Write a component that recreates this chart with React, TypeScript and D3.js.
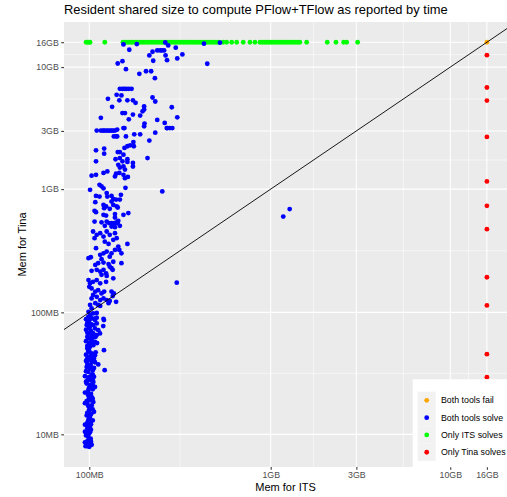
// Resident memory scatter: ITS vs Tina (log-log), drawn with D3

import { useRef, useEffect } from 'react';
import * as d3 from 'd3';

// Memory values are in MB (1GB = 1024MB). 16GB is the memory cap.
const MEM_LIMIT = 16384;

// [mem for ITS, mem for Tina]
const bothSolve: [number, number][] = [
  [155, 15720], [184, 15810], [265, 16300], [275, 15430], [303, 14770], [435, 15930], [534, 16240],
  [167, 14220], [225, 13690], [239, 14030], [248, 14030], [254, 14030], [261, 14030],
  [216, 12770], [266, 12770], [271, 11680], [309, 12060], [330, 13010], [227, 11550],
  [153, 11460], [144, 10970], [454, 10910], [160, 9850], [190, 9030], [207, 9470], [221, 9470], [232, 8310],
  [148, 6800], [153, 6800], [157, 6800], [161, 6800], [166, 6800], [172, 6800],
  [142, 6070], [151, 6000], [127, 5630], [147, 5470], [163, 5470], [175, 5470], [181, 5220], [225, 5770], [233, 5350],
  [134, 4840], [202, 4890], [202, 4600], [198, 4450], [288, 4800], [153, 4300], [158, 4300], [175, 4180], [192, 4100],
  [309, 3970], [116, 3930], [166, 3820], [239, 3780], [203, 3530], [202, 3350], [263, 3570], [281, 3240], [270, 3240], [155, 3240],
  [110, 3090], [116, 3090], [119, 3090], [121, 3090], [124, 3090], [127, 3090], [130, 3090], [133, 3090], [136, 3090], [139, 3090],
  [143, 3150], [157, 3240], [233, 2970], [272, 3240], [290, 3240], [137, 2770], [141, 2770], [143, 2770], [160, 2770], [178, 2880], [192, 2880], [216, 2560],
  [109, 2130], [121, 2200], [121, 2000], [144, 2060], [148, 2060], [155, 1960], [157, 2230], [163, 2300], [169, 2340], [176, 2490], [177, 2300],
  [109, 1730], [140, 1800], [148, 1840], [153, 1730], [163, 1800], [163, 1710], [175, 1680], [175, 1570], [211, 1840], [145, 1620], [148, 1540], [155, 1570], [158, 1480],
  [120, 1390], [126, 1430], [141, 1370], [147, 1390], [155, 1340], [103, 1320], [109, 1340], [158, 1260], [164, 1290], [139, 1300],
  [114, 1110], [117, 1080], [120, 1040], [159, 1050], [101, 1010], [255, 980],
  [125, 950], [126, 890], [109, 900], [114, 890], [133, 900], [136, 850], [133, 810], [141, 840], [136, 760], [142, 740], [150, 920], [148, 840],
  [108, 800], [107, 680], [120, 760], [124, 740], [121, 715], [130, 706], [144, 724], [109, 663], [120, 630], [124, 622], [139, 639], [139, 599], [155, 630], [165, 651],
  [107, 555], [117, 547], [129, 539], [133, 539], [138, 539], [144, 539],
  [125, 555], [136, 532], [142, 547], [145, 563], [122, 512], [133, 505], [139, 499], [148, 512],
  [105, 460], [110, 432], [107, 406], [115, 446], [120, 418], [125, 460], [130, 432], [139, 446], [142, 406], [136, 393], [122, 380], [128, 364], [163, 364],
  [109, 336], [145, 346], [147, 325], [120, 305], [125, 315], [133, 305], [139, 325], [130, 286], [151, 305],
  [99, 278], [102, 283], [115, 296], [117, 273], [151, 253], [108, 245], [112, 253], [120, 256], [128, 249], [136, 260], [130, 237],
  [103, 219], [110, 223], [115, 216], [120, 223], [124, 209], [135, 223], [133, 230], [117, 203], [125, 199], [136, 190],
  [99, 184], [101, 173], [105, 178], [110, 184], [115, 173], [100, 162], [103, 157], [124, 178], [307, 175],
  [108, 148], [112, 152], [117, 143], [121, 148], [105, 139], [103, 130], [110, 134], [115, 126], [120, 130],
  [133, 148], [137, 143], [135, 136], [141, 122], [125, 126], [128, 119], [130, 124],
  [101, 115], [108, 119], [112, 115], [103, 108], [115, 113], [99, 101], [101, 95], [105, 98], [110, 99],
  [102, 90.5], [107, 89], [120, 88.6],
  [98.7, 92], [103, 89], [107.6, 86.5], [110, 90.5], [120.7, 86.5], [119.6, 77.2],
  [96.7, 78.6], [100.9, 76.1], [105.3, 78.6], [110, 81.2], [107.6, 73.9], [112.2, 71.5],
  [100.9, 67.2], [105.3, 67.2], [110, 65.1], [114.7, 67.2], [98.7, 61.1], [103.1, 59.2], [107.6, 57.3],
  [100.9, 52.2], [105.3, 53.8], [97.5, 50.6], [120.7, 49], [98.7, 47.5], [103.1, 46], [107.6, 44.6],
  [100.9, 43.2], [98.7, 40.6], [103.1, 39.3], [106.2, 41.9], [112.2, 37.4], [121.8, 33.6],
  [96.7, 35.7], [100.9, 34.7], [104.5, 33.6], [98.7, 32.5], [103.1, 30.9], [95.9, 32.9],
  [106.2, 29.6], [98.7, 28.7], [101.8, 27.8], [105.3, 26.9], [96.7, 26.1], [107.6, 24.5],
  [100.9, 24.9], [104.5, 23.4], [98.7, 23], [98.7, 20.9], [103.1, 20.2], [100.9, 19], [105.3, 18.4],
  [96.7, 18.7], [106.2, 15.3], [100.9, 16.3], [98.7, 17.1], [103.1, 17.3], [96.7, 14.3], [100.9, 13.9],
  [98.7, 13], [101.8, 12.6], [96.7, 11.9], [100.9, 11.5], [98.7, 10.8], [100.9, 10.4],
  [95.9, 9.8], [98.7, 9.5], [101.8, 9.2], [94.6, 8.6], [96.7, 8.4], [98.7, 8.1], [100.9, 8.4],
  [103.1, 8.2], [95.3, 8.0], [100, 7.9],
  [99.6, 85], [102.2, 70], [97.5, 63], [104.5, 56], [99.6, 49], [102.2, 42], [97.5, 38], [99.6, 36],
  [104.5, 31], [99.6, 29.5], [97.5, 27.5], [102.2, 25.5], [99.6, 24], [97.5, 22], [102.2, 21.5],
  [99.6, 19.8], [97.5, 17.8], [102.2, 16.8], [99.6, 15.8], [97.5, 15], [102.2, 14.6], [99.6, 13.5],
  [97.5, 12.4], [99.6, 12], [97.5, 11.2], [99.6, 10.1], [97.5, 9.9], [99.6, 9], [97.5, 8.8],
  [102.2, 8.7], [99.6, 8.3], [97.5, 8.0], [102.2, 10.9], [102.2, 12.1], [100.9, 14.8], [104.5, 19.6],
  [104.5, 25.2], [104.5, 28.4], [106.2, 35], [107.6, 39], [108.5, 47], [110.5, 56], [104.5, 62], [108.5, 63],
  [95.9, 88], [97.5, 82], [102.2, 80], [95.9, 72], [99.6, 74], [97.5, 68], [103.1, 64], [95.9, 58],
  [99.6, 56], [101.8, 54], [97.5, 53], [95.9, 45], [101.8, 44], [97.5, 42], [104.5, 43], [95.9, 40],
  [101.8, 37], [94.6, 30], [94.6, 22], [94.6, 18], [94.6, 12], [94.6, 10.5], [95.9, 27], [104.5, 16], [104.5, 13],
  [1203, 610], [1306, 702],
];

// ITS solves, Tina hits the cap (y = MEM_LIMIT)
const onlyIts: number[] = [
  96, 98, 100, 101, 122,
  154, 158, 162, 166, 171, 175, 180, 184, 189, 194, 199, 204, 210, 215, 221, 226, 232, 238,
  244, 251, 257, 264, 271, 278, 285, 293, 300, 308, 316, 324, 333, 341, 350, 359, 369, 378,
  388, 398, 408, 419, 430, 441, 452, 464, 476, 489, 501, 514, 528,
  557, 582, 621, 662, 720, 785, 837,
  892, 915, 939, 963, 988, 1014, 1040, 1067, 1095, 1123, 1152, 1182, 1213, 1244, 1276, 1309,
  1343, 1378, 1414, 1450, 1488,
  1624, 2115, 2364, 2609, 2712, 3122,
];

// Tina solves, ITS hits the cap (x = MEM_LIMIT)
const onlyTina: number[] = [12830, 6970, 5450, 2740, 1184, 747, 481, 194, 114, 45.4, 29.4];

// both hit the cap
const bothFail: [number, number][] = [[MEM_LIMIT, MEM_LIMIT]];

const xBreaks = [100, 1024, 3072, 10240, 16384];
const xLabels = ['100MB', '1GB', '3GB', '10GB', '16GB'];
const yBreaks = [10, 100, 1024, 3072, 10240, 16384];
const yLabels = ['10MB', '100MB', '1GB', '3GB', '10GB', '16GB'];

const legendLabels = ['Both tools fail', 'Both tools solve', 'Only ITS solves', 'Only Tina solves'];
const legendColors = ['#FFA500', '#0000FF', '#00FF00', '#FF0000'];

const W = 507;
const H = 497;
const FONT = '"Liberation Sans", Arial, Helvetica, sans-serif';

// midpoints in log space between consecutive breaks (ggplot minor grid)
function minorBreaks(b: number[]): number[] {
  const out: number[] = [];
  for (let i = 0; i < b.length - 1; i++) out.push(Math.sqrt(b[i] * b[i + 1]));
  return out;
}

export default function App() {
  const svgRef = useRef<SVGSVGElement>(null);

  useEffect(() => {
    if (!svgRef.current) return;
    const svg = d3.select(svgRef.current);
    svg.selectAll('*').remove();

    const panel = { left: 64, right: 507, top: 22, bottom: 467 };

    const x = d3.scaleLog().domain([72.3, 21200]).range([panel.left, panel.right]);
    const y = d3.scaleLog().domain([5.4, 24000]).range([panel.bottom, panel.top]);

    svg.append('rect').attr('width', W).attr('height', H).attr('fill', '#ffffff');

    svg.append('defs').append('clipPath').attr('id', 'panel-clip')
      .append('rect')
      .attr('x', panel.left).attr('y', panel.top)
      .attr('width', panel.right - panel.left).attr('height', panel.bottom - panel.top);

    svg.append('rect')
      .attr('x', panel.left).attr('y', panel.top)
      .attr('width', panel.right - panel.left).attr('height', panel.bottom - panel.top)
      .attr('fill', '#EBEBEB');

    const grid = svg.append('g');
    // minor grid
    minorBreaks(xBreaks).forEach((v) => {
      grid.append('line').attr('x1', x(v)).attr('x2', x(v)).attr('y1', panel.top).attr('y2', panel.bottom)
        .attr('stroke', '#fff').attr('stroke-width', 0.55);
    });
    minorBreaks(yBreaks).forEach((v) => {
      grid.append('line').attr('y1', y(v)).attr('y2', y(v)).attr('x1', panel.left).attr('x2', panel.right)
        .attr('stroke', '#fff').attr('stroke-width', 0.55);
    });
    // major grid
    xBreaks.forEach((v) => {
      grid.append('line').attr('x1', x(v)).attr('x2', x(v)).attr('y1', panel.top).attr('y2', panel.bottom)
        .attr('stroke', '#fff').attr('stroke-width', 1.07);
    });
    yBreaks.forEach((v) => {
      grid.append('line').attr('y1', y(v)).attr('y2', y(v)).attr('x1', panel.left).attr('x2', panel.right)
        .attr('stroke', '#fff').attr('stroke-width', 1.07);
    });

    const pts = svg.append('g').attr('clip-path', 'url(#panel-clip)');
    const r = 2.4;

    pts.selectAll('circle.its')
      .data(onlyIts)
      .join('circle')
      .attr('class', 'its')
      .attr('cx', (d) => x(d))
      .attr('cy', y(MEM_LIMIT))
      .attr('r', r)
      .attr('fill', legendColors[2]);

    pts.selectAll('circle.both')
      .data(bothSolve)
      .join('circle')
      .attr('class', 'both')
      .attr('cx', (d) => x(d[0]))
      .attr('cy', (d) => y(d[1]))
      .attr('r', r)
      .attr('fill', legendColors[1]);

    pts.selectAll('circle.tina')
      .data(onlyTina)
      .join('circle')
      .attr('class', 'tina')
      .attr('cx', x(MEM_LIMIT))
      .attr('cy', (d) => y(d))
      .attr('r', r)
      .attr('fill', legendColors[3]);

    pts.selectAll('circle.fail')
      .data(bothFail)
      .join('circle')
      .attr('class', 'fail')
      .attr('cx', (d) => x(d[0]))
      .attr('cy', (d) => y(d[1]))
      .attr('r', r)
      .attr('fill', legendColors[0]);

    // identity line y = x
    const diag = d3.line<number>().x((d) => x(d)).y((d) => y(d));
    pts.append('path')
      .attr('d', diag(x.domain()))
      .attr('stroke', '#000')
      .attr('stroke-width', 0.9)
      .attr('fill', 'none');

    // axes
    const xAxis = svg.append('g')
      .attr('transform', `translate(0,${panel.bottom})`)
      .call(d3.axisBottom(x).tickValues(xBreaks).tickFormat((_, i) => xLabels[i]).tickSize(2.75).tickPadding(2.5));
    const yAxis = svg.append('g')
      .attr('transform', `translate(${panel.left},0)`)
      .call(d3.axisLeft(y).tickValues(yBreaks).tickFormat((_, i) => yLabels[i]).tickSize(2.75).tickPadding(2.5));

    [xAxis, yAxis].forEach((a) => {
      a.select('.domain').remove();
      a.selectAll('.tick line').attr('stroke', '#333333').attr('stroke-width', 1.07);
      a.selectAll('.tick text')
        .attr('fill', '#4D4D4D')
        .style('font-family', FONT)
        .style('font-size', '8.8px');
    });

    // legend (inside, bottom right)
    const lg = svg.append('g');
    lg.append('rect')
      .attr('x', 412.7).attr('y', 379.3)
      .attr('width', 110).attr('height', 88)
      .attr('fill', '#ffffff');
    const keyH = 17.3;
    legendLabels.forEach((label, i) => {
      const ky = 391.7 + i * keyH;
      lg.append('rect')
        .attr('x', 417.7).attr('y', ky)
        .attr('width', 18).attr('height', keyH)
        .attr('fill', '#F2F2F2');
      lg.append('circle')
        .attr('cx', 426.7).attr('cy', ky + keyH / 2)
        .attr('r', r)
        .attr('fill', legendColors[i]);
      lg.append('text')
        .attr('x', 441).attr('y', ky + keyH / 2 + 3.1)
        .style('font-family', FONT)
        .style('font-size', '8.8px')
        .attr('fill', '#000')
        .text(label);
    });

    // titles
    svg.append('text')
      .attr('x', panel.left).attr('y', 13.5)
      .style('font-family', FONT).style('font-size', '12.9px')
      .attr('fill', '#000')
      .text('Resident shared size to compute PFlow+TFlow as reported by time');

    svg.append('text')
      .attr('x', (panel.left + panel.right) / 2).attr('y', 491)
      .attr('text-anchor', 'middle')
      .style('font-family', FONT).style('font-size', '11px')
      .attr('fill', '#000')
      .text('Mem for ITS');

    svg.append('text')
      .attr('transform', `translate(25.5,${(panel.top + panel.bottom) / 2}) rotate(-90)`)
      .attr('text-anchor', 'middle')
      .style('font-family', FONT).style('font-size', '11px')
      .attr('fill', '#000')
      .text('Mem for Tina');
  }, []);

  return (
    <svg
      ref={svgRef}
      width={W}
      height={H}
      style={{ position: 'absolute', left: 0, top: 0, display: 'block', overflow: 'hidden' }}
    />
  );
}
